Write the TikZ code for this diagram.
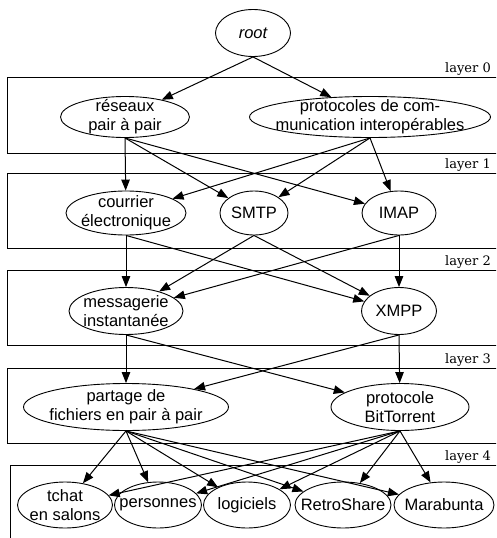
\documentclass[tikz,border=0pt]{standalone}
\usepackage{fontspec}
\setmainfont{Liberation Sans}
\newfontfamily\layerfont{DejaVu Serif}
\usetikzlibrary{shapes.geometric}
\usetikzlibrary{arrows.meta}
\tikzset{topictext/.style={align=center, inner sep=0, font=\fontsize{16.5}{19}\selectfont}}
\tikzset{topic/.style={draw, ellipse, inner sep=0, line width=0.9pt, label={[topictext]center:#1}}}
\tikzset{layer/.style={anchor=base east, inner sep=0, font=\layerfont\fontsize{13}{15}\selectfont}}
\tikzset{every edge/.style={draw, line width=1pt}}

\begin{document}
\begin{tikzpicture}[x=1pt, y=-1pt, >={Triangle[length=11pt,width=8.5pt]}]
    \useasboundingbox (0,0) rectangle (496,538);
    \clip (0,0) rectangle (496,538);

    % layers
    \draw[line width=0.9pt] (7.5,77) rectangle (520,153);
    \draw[line width=0.9pt] (7.5,173) rectangle (520,248);
    \draw[line width=0.9pt] (7.5,270) rectangle (520,345);
    \draw[line width=0.9pt] (7.5,368) rectangle (520,443);
    \draw[line width=0.9pt] (10,465) rectangle (520,560);
    \node[layer] at (491, 72) (L0) {layer 0};
    \node[layer] at (491, 168) (L1) {layer 1};
    \node[layer] at (491, 265) (L2) {layer 2};
    \node[layer] at (491, 363) (L3) {layer 3};
    \node[layer] at (491, 460) (L4) {layer 4};

    \node[topic={\itshape root}, minimum width=75, minimum height=47] at (253, 33) (root) {};

    \node[topic={réseaux\\pair à pair}, minimum width=129, minimum height=41] at (125, 117) (reseaux) {};
    \node[topic={protocoles de com-\\munication interopérables}, minimum width=241, minimum height=41] at (370, 117) (proto) {};

    \node[topic={courrier\\électronique}, minimum width=120, minimum height=44] at (126, 213) (courrier) {};
    \node[topic={SMTP}, minimum width=68, minimum height=44] at (254, 213) (smtp) {};
    \node[topic={IMAP}, minimum width=74, minimum height=44] at (399, 213) (imap) {};

    \node[topic={messagerie\\instantanée}, minimum width=114, minimum height=47] at (126, 311) (msg) {};
    \node[topic={XMPP}, minimum width=75, minimum height=47] at (399, 311) (xmpp) {};

    \node[topic={partage de\\fichiers en pair à pair}, minimum width=205, minimum height=47] at (126, 407) (partage) {};
    \node[topic={protocole\\BitTorrent}, minimum width=138, minimum height=47] at (400, 407) (bt) {};

    \node[topic={tchat\\en salons}, minimum width=95, minimum height=46] at (65, 505) (tchat) {};
    \node[topic={personnes}, minimum width=87, minimum height=46] at (158, 505) (pers) {};
    \node[topic={logiciels}, minimum width=87, minimum height=46] at (247, 505) (logi) {};
    \node[topic={RetroShare}, minimum width=96, minimum height=46] at (343, 505) (retro) {};
    \node[topic={Marabunta}, minimum width=100, minimum height=46] at (444, 505) (mara) {};

    \draw (root.south) edge[->] (reseaux);
    \draw (root.south) edge[->] (proto);

    \foreach \src in {reseaux, proto} {
      \foreach \dst in {courrier, smtp, imap}
        \draw (\src.south) edge[->] (\dst);
    }
    \foreach \src in {courrier, smtp, imap} {
      \foreach \dst in {msg, xmpp}
        \draw (\src.south) edge[->] (\dst);
    }
    \foreach \src in {msg, xmpp} {
      \foreach \dst in {partage, bt}
        \draw (\src.south) edge[->] (\dst);
    }
    \foreach \src in {partage, bt} {
      \foreach \dst in {tchat, pers, logi, retro, mara}
        \draw (\src.south) edge[->] (\dst);
    }
  \end{tikzpicture}
\end{document}
